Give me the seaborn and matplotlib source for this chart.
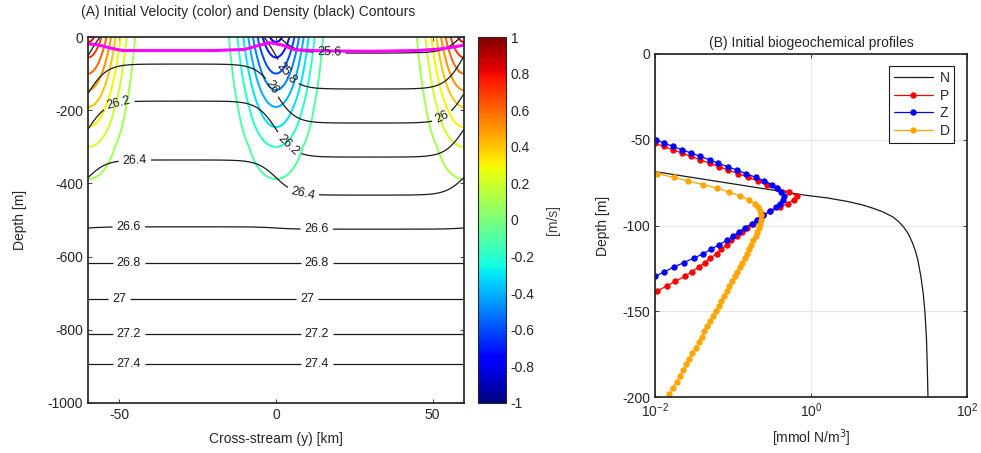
"""
Initial state figure: jet velocity / isopycnals (A) and NPZD profiles (B)
"""

import numpy as np
import matplotlib
matplotlib.use("Agg")
import matplotlib.pyplot as plt
from matplotlib.colors import Normalize
from matplotlib.cm import ScalarMappable
from matplotlib.ticker import NullLocator
import seaborn as sns

nan = np.nan

# ── Panel A: jets, isopycnals, mixed layer ─────────────────────────────────
Y_KM = np.linspace(-60, 60, 241)
Z_M = np.linspace(0, 1000, 501)

JET_Y = [-60, 0, 60]
JET_SIGN = [1, -1, 1]
JET_WIDTH_KM = 7.3
VEL_DEPTH = [0, 14, 56, 100, 145, 191, 246, 300, 388, 480, 600, 1000]
VEL_AMP = [0.83, 0.80, 0.70, 0.60, 0.50, 0.40, 0.30, 0.20, 0.10, 0.04, 0.0, 0.0]
VEL_LEVELS = [-0.9, -0.8, -0.7, -0.6, -0.5, -0.4, -0.3, -0.2, -0.1,
              0.1, 0.2, 0.3, 0.4, 0.5, 0.6, 0.7, 0.8, 0.9]
CBAR_TICKS = [-1, -0.8, -0.6, -0.4, -0.2, 0, 0.2, 0.4, 0.6, 0.8, 1]

SIGMA_LEVELS = [25.6, 25.8, 26.0, 26.2, 26.4, 26.6, 26.8, 27.0, 27.2, 27.4]
ISO_DEPTH_WEST = [-60, -40, 74, 175, 336, 519, 618, 716, 811, 894]
ISO_DEPTH_EAST = [44, 142, 235, 328, 432, 525, 618, 716, 811, 894]
FRONT_WIDTH_KM = 6.0

MLD_Y = [-60, -57, -53, -49, -40, -20, -10, -6, -2, 2, 6, 15, 30, 45, 52, 57, 60]
MLD_DEPTH = [19, 21, 30, 37, 37, 37, 34, 24, 15.5, 22, 35, 38, 39, 37, 33, 27, 22]

# where the density labels sit (y km, z m)
LABEL_SPOTS = [(17, -41), (3.5, -98), (-1, -137), (53, -218), (-50, -190),
               (3.8, -295), (-45, -352), (8.6, -426), (-47, -520), (13, -525),
               (-47, -618), (13, -618), (-50, -716), (10, -716),
               (-47, -811), (13, -811), (-47, -894), (13, -894)]

# ── Panel B: initial biogeochemical profiles (log10 mmol N/m3) ─────────────
DEPTH_GRID = [48.3, 50.1, 52.0, 53.9, 55.8, 57.7, 59.7, 61.7, 63.7, 65.7,
              67.7, 69.8, 71.9, 74.0, 76.1, 78.3, 80.5, 82.7, 84.9, 87.2,
              89.5, 91.8, 94.1, 96.5, 98.9, 101.3, 103.7, 106.2, 108.7, 111.2,
              113.8, 116.4, 119.0, 121.6, 124.3, 127.0, 129.7, 132.5, 135.3, 138.1,
              140.9, 143.8, 146.7, 149.7, 152.7, 155.7, 158.7, 161.8, 164.9, 168.1,
              171.2, 174.5, 177.7, 181.0, 184.3, 187.7, 191.1, 194.5, 198.0]
P_LOG10 = [nan, -2.11, -2.00, -1.89, -1.77, -1.66, -1.54, -1.42, -1.30, -1.18,
           -1.06, -0.93, -0.81, -0.68, -0.56, -0.43, -0.28, -0.18, -0.22, -0.30,
           -0.40, -0.52, -0.61, -0.68, -0.75, -0.82, -0.89, -0.95, -1.02, -1.08,
           -1.15, -1.21, -1.29, -1.36, -1.44, -1.53, -1.62, -1.74, -1.85, -1.97,
           -2.10, nan, nan, nan, nan, nan, nan, nan, nan, nan,
           nan, nan, nan, nan, nan, nan, nan, nan, nan]
Z_LOG10 = [-2.10, -1.99, -1.88, -1.77, -1.66, -1.54, -1.42, -1.30, -1.19, -1.07,
           -0.95, -0.83, -0.71, -0.60, -0.50, -0.43, -0.38, -0.35, -0.36, -0.40,
           -0.45, -0.53, -0.62, -0.69, -0.76, -0.84, -0.92, -1.00, -1.08, -1.18,
           -1.28, -1.38, -1.50, -1.63, -1.76, -1.88, -2.00, -2.12, nan, nan,
           nan, nan, nan, nan, nan, nan, nan, nan, nan, nan,
           nan, nan, nan, nan, nan, nan, nan, nan, nan]
D_LOG10 = [nan, nan, nan, nan, nan, nan, nan, nan, nan, nan,
           -2.12, -1.97, -1.76, -1.58, -1.39, -1.20, -1.05, -0.91, -0.80, -0.72,
           -0.68, -0.65, -0.64, -0.64, -0.66, -0.67, -0.69, -0.71, -0.74, -0.77,
           -0.80, -0.82, -0.85, -0.88, -0.91, -0.95, -0.98, -1.01, -1.05, -1.08,
           -1.11, -1.15, -1.18, -1.22, -1.26, -1.29, -1.33, -1.37, -1.40, -1.44,
           -1.48, -1.52, -1.56, -1.60, -1.64, -1.68, -1.72, -1.77, -1.82]
N_DEPTH = [66.0, 68.6, 72.0, 76.0, 80.0, 82.0, 84.0, 86.0, 88.0, 90.0, 92.0,
           95.0, 98.0, 101.0, 105.0, 110.0, 115.0, 120.0, 130.0, 140.0, 150.0,
           165.0, 180.0, 200.0]
N_LOG10 = [-2.37, -2.00, -1.52, -0.96, -0.40, -0.13, 0.22, 0.47, 0.66, 0.80, 0.92,
           1.05, 1.13, 1.19, 1.25, 1.30, 1.34, 1.37, 1.41, 1.44, 1.46,
           1.48, 1.49, 1.50]

SPECIES = [("P", P_LOG10, "#ff0000"), ("Z", Z_LOG10, "#0000ff"), ("D", D_LOG10, "#ffa500")]

sns.set_theme(style="ticks")
plt.rcParams["font.family"] = ["Liberation Sans", "DejaVu Sans"]
plt.rcParams["axes.unicode_minus"] = False
plt.rcParams["xtick.direction"] = "in"
plt.rcParams["ytick.direction"] = "in"
plt.rcParams["axes.edgecolor"] = "#262626"


def build_fields():
    yy, zz = np.meshgrid(Y_KM, Z_M)
    amp = np.interp(zz, VEL_DEPTH, VEL_AMP)
    vel = np.zeros_like(yy)
    for y0, s in zip(JET_Y, JET_SIGN):
        vel += s * amp * np.exp(-0.5 * ((yy - y0) / JET_WIDTH_KM) ** 2)

    half = JET_Y[-1]
    front = (np.tanh(Y_KM / FRONT_WIDTH_KM) - np.tanh((Y_KM + half) / FRONT_WIDTH_KM)
             - np.tanh((Y_KM - half) / FRONT_WIDTH_KM))
    west = np.array(ISO_DEPTH_WEST, float)
    east = np.array(ISO_DEPTH_EAST, float)
    h = (west + east)[:, None] / 2 + (east - west)[:, None] / 2 * front[None, :]
    lev = np.r_[25.4, SIGMA_LEVELS, 27.6]
    sigma = np.empty_like(yy)
    for j in range(len(Y_KM)):
        sigma[:, j] = np.interp(Z_M, np.r_[-400, h[:, j], 1200], lev)
    return vel, sigma


fig = plt.figure(figsize=(9.81, 4.53), dpi=100)
ax1 = fig.add_axes([0.0897, 0.1104, 0.3833, 0.8079])
cax = fig.add_axes([0.4873, 0.1104, 0.0285, 0.8079])
ax2 = fig.add_axes([0.6677, 0.1236, 0.3180, 0.7572])

# ── (A) ──
vel, sigma = build_fields()
norm = Normalize(-1, 1)
ax1.contour(Y_KM, -Z_M, vel, levels=VEL_LEVELS, cmap="jet", norm=norm, linewidths=1.45)
cs = ax1.contour(Y_KM, -Z_M, sigma, levels=SIGMA_LEVELS, colors="k", linewidths=0.9)
ax1.clabel(cs, manual=LABEL_SPOTS, inline=True, inline_spacing=4,
           fmt=lambda v: f"{v:g}", fontsize=9)
ax1.plot(MLD_Y, [-d for d in MLD_DEPTH], color="#ff00ff", lw=2.2)

ax1.set_xlim(-60, 60)
ax1.set_ylim(-1000, 0)
ax1.set_xticks([-50, 0, 50])
ax1.set_yticks([-1000, -800, -600, -400, -200, 0])
ax1.tick_params(labelsize=10, top=True, right=True, length=3, width=0.6)
ax1.set_xlabel("Cross-stream (y) [km]", fontsize=10, labelpad=7)
ax1.set_ylabel("Depth [m]", fontsize=10, labelpad=15)
fig.text(248 / 981, 1 - 12 / 453, "(A) Initial Velocity (color) and Density (black) Contours",
         ha="center", va="center", fontsize=10)

cb = fig.colorbar(ScalarMappable(norm=norm, cmap="jet"), cax=cax, ticks=CBAR_TICKS)
cb.ax.set_yticklabels([f"{t:g}" for t in CBAR_TICKS])
cb.ax.tick_params(labelsize=10, length=3, width=0.6, direction="in")
cb.outline.set_linewidth(0.8)
cb.set_label("[m/s]", fontsize=10, labelpad=8, color="#404040")

# ── (B) ──
depth_grid = np.array(DEPTH_GRID)
sns.lineplot(x=10 ** np.array(N_LOG10), y=-np.array(N_DEPTH), sort=False,
             estimator=None, color="k", lw=0.9, label="N", ax=ax2)
for name, logs, col in SPECIES:
    vals = np.array(logs)
    ok = ~np.isnan(vals)
    sns.lineplot(x=10 ** vals[ok], y=-depth_grid[ok], sort=False, estimator=None,
                 color=col, lw=0.9, marker="o", markersize=3.8,
                 markeredgecolor=col, label=name, ax=ax2)

ax2.set_xscale("log")
ax2.set_xlim(1e-2, 1e2)
ax2.set_ylim(-200, 0)
ax2.set_xticks([1e-2, 1e0, 1e2])
ax2.xaxis.set_minor_locator(NullLocator())
ax2.set_yticks([-200, -150, -100, -50, 0])
ax2.grid(True, color="#e6e6e6", lw=0.8)
ax2.set_axisbelow(True)
ax2.tick_params(labelsize=10, top=True, right=True, length=3, width=0.6)
ax2.set_xlabel("[mmol N/m$^{3}$]", fontsize=10, labelpad=5)
ax2.set_ylabel("Depth [m]", fontsize=10, labelpad=9)
ax2.set_title("(B) Initial biogeochemical profiles", fontsize=10, pad=5)
leg = ax2.legend(loc="upper right", fontsize=10, frameon=True, fancybox=False,
                 edgecolor="k", framealpha=1, handlelength=2.8, borderaxespad=0.9,
                 labelspacing=0.25, handletextpad=0.5, borderpad=0.35)
leg.get_frame().set_linewidth(0.8)

fig.savefig("out.png", dpi=100)
